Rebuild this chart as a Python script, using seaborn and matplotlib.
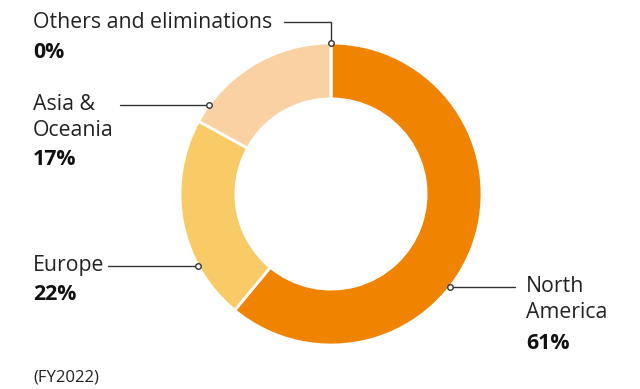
import numpy as np
import matplotlib
matplotlib.use("Agg")
import matplotlib.pyplot as plt
import seaborn as sns

# Sales share by region (FY2022)
regions = ["North America", "Europe", "Asia & Oceania", "Others and eliminations"]
shares = [61, 22, 17, 0]
colors = ["#F08300", "#F9CB67", "#FAD1A2", "#F08300"]

sns.set_theme(style="white")
plt.rcParams["font.family"] = ["Open Sans", "DejaVu Sans"]

W, H = 640, 389
fig = plt.figure(figsize=(W / 100, H / 100), dpi=100)
ax = fig.add_axes([0, 0, 1, 1])

# center and radius of the donut in pixels
cx, cy, R = 331, 194, 151


def px(x, y):
    # pixel (from top-left) -> data coords
    return (x - cx) / R, (cy - y) / R


ax.pie(shares, colors=colors, startangle=90, counterclock=False, radius=1,
       wedgeprops=dict(width=0.37, edgecolor="white", linewidth=2))
ax.set_xlim(-cx / R, (W - cx) / R)
ax.set_ylim(-(H - cy) / R, cy / R)
ax.axis("off")

fs = 15.3
line_kw = dict(color="#333333", lw=1, zorder=3)
mk_kw = dict(marker="o", ms=4, mfc="white", mec="#333333", mew=1, zorder=4)


def edge_x(y_px, side):
    y = (cy - y_px) / R
    return side * np.sqrt(max(1 - y * y, 0))


# Others and eliminations
ax.text(*px(33, 22), "Others and eliminations", fontsize=fs, va="center", color="#222222")
ax.text(*px(33, 52), f"{shares[3]}%", fontsize=fs, fontweight="bold", va="center", color="#111111")
x0, y0 = px(284, 22)
x1, y1 = px(331, 22)
ax.plot([x0, x1, x1], [y0, y1, 1], **line_kw)
ax.plot([x1], [1], **mk_kw)

# Asia & Oceania
ax.text(*px(33, 104), "Asia &", fontsize=fs, va="center", color="#222222")
ax.text(*px(33, 131), "Oceania", fontsize=fs, va="center", color="#222222")
ax.text(*px(33, 160), f"{shares[2]}%", fontsize=fs, fontweight="bold", va="center", color="#111111")
xa, ya = px(120, 105)
ex = edge_x(105, -1)
ax.plot([xa, ex], [ya, ya], **line_kw)
ax.plot([ex], [ya], **mk_kw)

# Europe
ax.text(*px(33, 266), "Europe", fontsize=fs, va="center", color="#222222")
ax.text(*px(33, 295), f"{shares[1]}%", fontsize=fs, fontweight="bold", va="center", color="#111111")
xe, ye = px(108, 266)
ex = edge_x(266, -1)
ax.plot([xe, ex], [ye, ye], **line_kw)
ax.plot([ex], [ye], **mk_kw)

# North America
ax.text(*px(526, 287), "North", fontsize=fs, va="center", color="#222222")
ax.text(*px(526, 313), "America", fontsize=fs, va="center", color="#222222")
ax.text(*px(526, 344), f"{shares[0]}%", fontsize=fs, fontweight="bold", va="center", color="#111111")
xn, yn = px(515, 287)
ex = edge_x(287, 1)
ax.plot([ex, xn], [yn, yn], **line_kw)
ax.plot([ex], [yn], **mk_kw)

ax.text(*px(33, 378), "(FY2022)", fontsize=12, va="center", color="#222222")

fig.savefig("out.png", dpi=100)
